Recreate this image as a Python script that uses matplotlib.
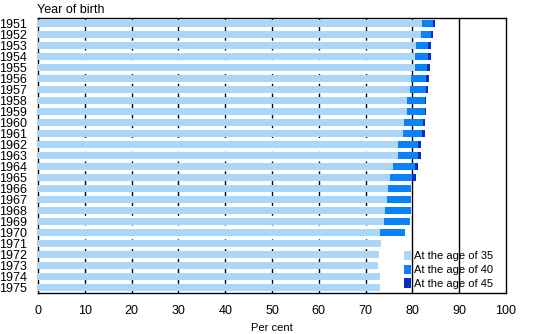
import matplotlib.pyplot as plt
import numpy as np

plt.rcParams['font.family'] = ['Liberation Sans', 'DejaVu Sans']

years = list(range(1951, 1976))
age35 = [82.0, 81.8, 80.8, 80.5, 80.5, 79.7, 79.4, 78.8, 78.8, 78.2, 77.9, 76.9, 76.9,
         75.8, 75.2, 74.8, 74.5, 74.1, 73.9, 73.0, 73.2, 72.8, 72.6, 73.0, 73.0]
age40 = [84.4, 83.9, 83.3, 83.4, 83.2, 83.0, 82.8, 82.6, 82.6, 82.2, 82.0, 81.1, 81.1,
         80.5, 80.0, 79.6, 79.6, 79.6, 79.4, 78.5]
age45 = [84.8, 84.3, 83.9, 83.9, 83.7, 83.5, 83.3, 83.0, 83.0, 82.6, 82.6, 81.8, 81.8,
         81.1, 80.7]

c35 = '#aad6fa'
c40 = '#0a82f8'
c45 = '#0a2ec0'

fig = plt.figure(figsize=(5.45, 3.34), dpi=100)
ax = fig.add_axes([38/545, 1 - 293/334, 468/545, 275/334])

y = np.arange(len(years))
h = 0.58
# drawn from the back: 45 first, then 40, then 35 on top
ax.barh(y[:len(age45)], age45, height=h, color=c45, zorder=2, label='At the age of 45')
ax.barh(y[:len(age40)], age40, height=h, color=c40, zorder=3, label='At the age of 40')
ax.barh(y, age35, height=h, color=c35, zorder=4, label='At the age of 35')

for v in range(10, 80, 10):
    ax.axvline(v, color='black', lw=1, ls=(0, (4, 3)), zorder=1)
ax.axvline(80, color='black', lw=1, zorder=1)
ax.axvline(90, color='black', lw=1, zorder=1)

ax.set_xlim(0, 100)
ax.set_ylim(len(years) - 0.5, -0.5)
ax.set_xticks(range(0, 101, 10))
ax.set_yticks(y)
ax.set_yticklabels([str(v) for v in years])
ax.tick_params(length=0, labelsize=9)
ax.tick_params(axis='y', labelsize=9, pad=8)
ax.tick_params(axis='x', pad=9)
for s in ax.spines.values():
    s.set_color('black')
    s.set_linewidth(1)

fig.text(272/545, 1 - 328/334, 'Per cent', fontsize=8, va='center', ha='center')
fig.text(37/545, 1 - 10/334, 'Year of birth', fontsize=9, va='center', ha='left')

handles, labels = ax.get_legend_handles_labels()
leg = ax.legend(handles[::-1], labels[::-1], loc='lower left', bbox_to_anchor=(0.77, -0.005),
                frameon=False, fontsize=8, handlelength=0.6, handleheight=0.9,
                handletextpad=0.3, labelspacing=0.3, borderaxespad=0.1)
leg.set_zorder(6)

fig.savefig('out.png', dpi=100)
